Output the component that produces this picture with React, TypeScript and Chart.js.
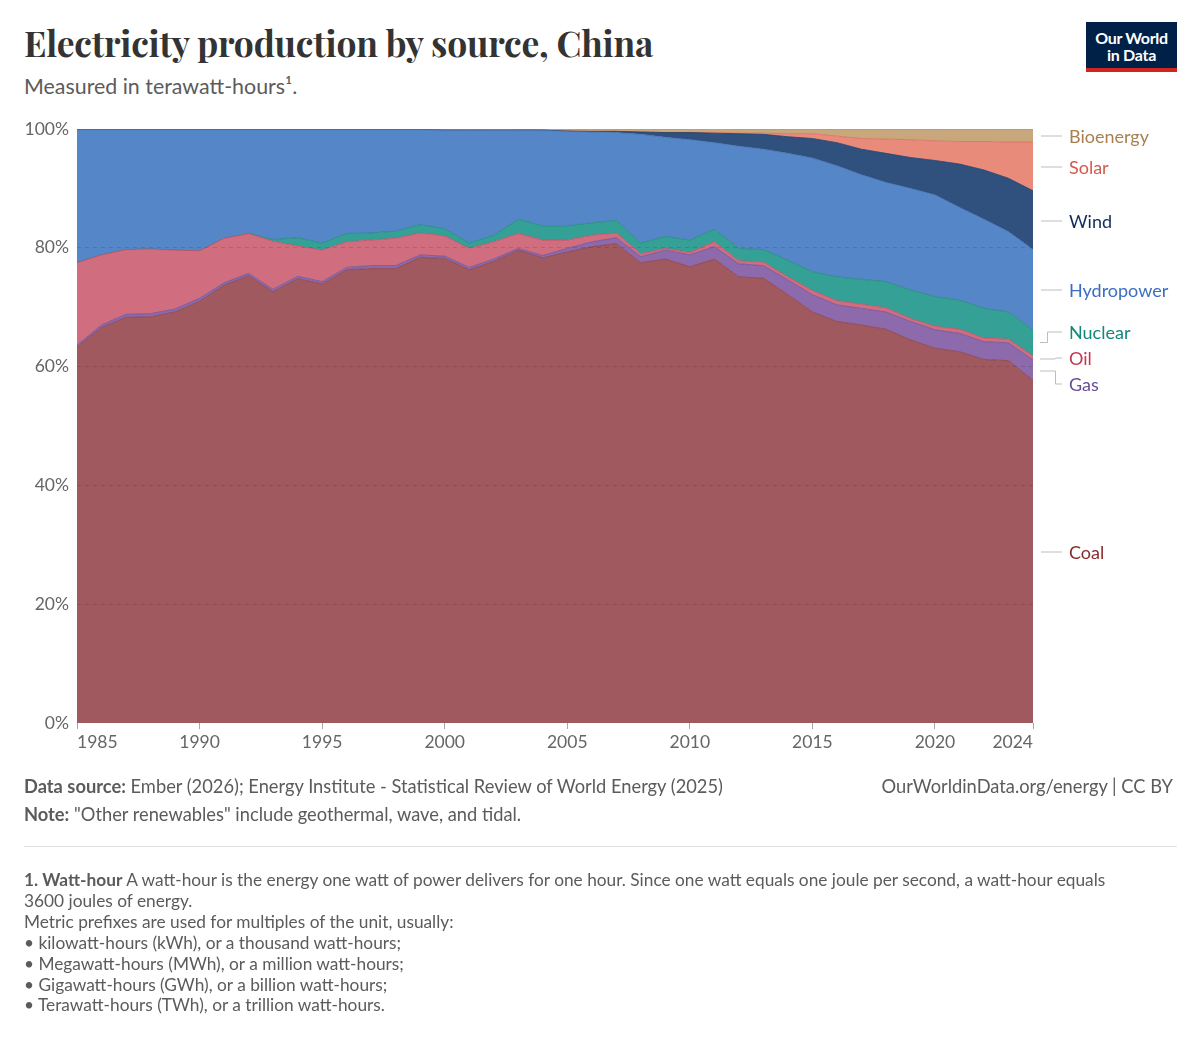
import React, { useEffect, useRef } from "react";
import { Chart, registerables } from "chart.js";

Chart.register(...registerables);

// ---------- DATA (share of electricity production, %) ----------
const years = [
  1985, 1986, 1987, 1988, 1989, 1990, 1991, 1992, 1993, 1994,
  1995, 1996, 1997, 1998, 1999, 2000, 2001, 2002, 2003, 2004,
  2005, 2006, 2007, 2008, 2009, 2010, 2011, 2012, 2013, 2014,
  2015, 2016, 2017, 2018, 2019, 2020, 2021, 2022, 2023, 2024,
];

const coal = [
  63.3, 66.6, 68.3, 68.4, 69.2, 71.0, 73.7, 75.3, 72.6, 74.8,
  73.9, 76.3, 76.5, 76.5, 78.4, 78.2, 76.3, 77.7, 79.6, 78.3,
  79.3, 80.2, 80.7, 77.5, 78.1, 76.8, 78.1, 75.1, 74.9, 72.1,
  69.2, 67.6, 67.0, 66.3, 64.5, 63.1, 62.5, 61.2, 61.0, 57.7,
];
const gas = [
  0.3, 0.4, 0.5, 0.5, 0.5, 0.5, 0.4, 0.4, 0.4, 0.4,
  0.4, 0.4, 0.5, 0.5, 0.4, 0.4, 0.4, 0.4, 0.3, 0.4,
  0.6, 0.8, 1.0, 1.0, 1.5, 2.0, 2.1, 2.2, 2.1, 2.5,
  2.9, 2.8, 2.8, 2.9, 3.1, 3.1, 3.1, 3.0, 3.0, 3.4,
];
const oil = [
  13.9, 11.8, 10.9, 10.9, 9.9, 8.0, 7.5, 6.7, 8.1, 5.1,
  5.3, 4.3, 4.3, 4.6, 3.7, 3.4, 3.2, 2.9, 2.5, 2.6,
  1.4, 1.1, 0.8, 0.5, 0.3, 0.4, 0.8, 0.5, 0.6, 0.5,
  0.7, 0.7, 0.7, 0.7, 0.5, 0.6, 0.7, 0.6, 0.6, 0.7,
];
const nuclear = [
  0, 0, 0, 0, 0, 0, 0, 0, 0.3, 1.4,
  1.2, 1.4, 1.2, 1.2, 1.4, 1.2, 0.9, 1.1, 2.4, 2.4,
  2.4, 2.1, 2.1, 1.8, 2.0, 2.1, 2.1, 2.1, 2.1, 2.8,
  3.2, 4.0, 4.2, 4.4, 4.8, 5.0, 4.9, 5.0, 4.6, 4.4,
];
const hydropower = [
  22.4, 21.1, 20.2, 20.1, 20.3, 20.4, 18.3, 17.5, 18.5, 18.2,
  19.1, 17.5, 17.4, 17.1, 16.0, 16.6, 19.0, 17.7, 15.0, 16.1,
  15.9, 15.3, 14.8, 18.3, 16.7, 16.9, 14.6, 17.2, 16.9, 18.0,
  19.1, 18.7, 17.6, 16.7, 17.1, 17.1, 15.6, 15.0, 13.5, 13.5,
];
const wind = [
  0, 0, 0, 0, 0, 0, 0, 0, 0, 0,
  0, 0, 0, 0, 0, 0, 0, 0, 0, 0,
  0.05, 0.1, 0.2, 0.4, 0.8, 1.2, 1.6, 2.1, 2.5, 2.8,
  3.3, 3.9, 4.3, 4.9, 5.2, 5.8, 7.3, 8.3, 9.0, 9.9,
];
const solar = [
  0, 0, 0, 0, 0, 0, 0, 0, 0, 0,
  0, 0, 0, 0, 0, 0, 0, 0, 0, 0,
  0, 0, 0, 0, 0, 0.02, 0.07, 0.1, 0.2, 0.5,
  0.8, 1.1, 1.8, 2.4, 3.0, 3.3, 3.8, 4.8, 6.1, 8.2,
];
const bioenergy = [
  0.1, 0.1, 0.1, 0.1, 0.1, 0.1, 0.1, 0.1, 0.1, 0.1,
  0.1, 0.1, 0.1, 0.1, 0.1, 0.15, 0.15, 0.15, 0.2, 0.2,
  0.3, 0.35, 0.4, 0.5, 0.55, 0.6, 0.6, 0.7, 0.7, 0.8,
  0.8, 1.2, 1.6, 1.7, 1.8, 2.0, 2.1, 2.1, 2.2, 2.2,
];

const xTickYears = [1985, 1990, 1995, 2000, 2005, 2010, 2015, 2020, 2024];
const yTickValues = [0, 20, 40, 60, 80, 100];

const seriesNames = ["Coal", "Gas", "Oil", "Nuclear", "Hydropower", "Wind", "Solar", "Bioenergy"];
const seriesValues = [coal, gas, oil, nuclear, hydropower, wind, solar, bioenergy];
const seriesFill = ["#a0595f", "#8c6aac", "#d06e80", "#35a096", "#5587c8", "#30507e", "#e98b7b", "#c9a77d"];
const seriesLine = ["#8a3e47", "#6f4e95", "#c04e66", "#1f857b", "#3f6fae", "#213d66", "#d86d5e", "#b08b5e"];

// Right-hand labels (layout only)
const labelItems = [
  { name: "Bioenergy", y: 136, color: "#a87f50" },
  { name: "Solar", y: 167, color: "#d35a4b" },
  { name: "Wind", y: 221, color: "#102c5c" },
  { name: "Hydropower", y: 290, color: "#3b6ec0" },
  { name: "Nuclear", y: 332, color: "#12877a" },
  { name: "Oil", y: 358, color: "#c73551" },
  { name: "Gas", y: 384, color: "#6b4b98" },
  { name: "Coal", y: 552, color: "#8a2b2b" },
];

const FONT = "Lato, 'Noto Sans', sans-serif";

function ChartCanvas() {
  const ref = useRef<HTMLCanvasElement | null>(null);
  useEffect(() => {
    if (!ref.current) return;
    const datasets = seriesNames.map((name, i) => ({
      label: name,
      data: years.map((yr, j) => ({ x: yr, y: seriesValues[i][j] })),
      backgroundColor: seriesFill[i],
      borderColor: seriesLine[i],
      borderWidth: 0.8,
      fill: i === 0 ? "origin" : "-1",
      pointRadius: 0,
      pointHoverRadius: 0,
      tension: 0,
    }));
    const chart = new Chart(ref.current, {
      type: "line",
      data: { datasets },
      options: {
        animation: false,
        responsive: true,
        maintainAspectRatio: false,
        layout: { padding: { top: 19, right: 17, left: 0, bottom: 0 } },
        plugins: {
          legend: { display: false },
          tooltip: { enabled: false },
        },
        scales: {
          x: {
            type: "linear",
            min: 1985,
            max: 2024,
            afterBuildTicks: (s: any) => {
              s.ticks = xTickYears.map((v) => ({ value: v }));
            },
            afterFit: (s: any) => {
              s.height = 37;
            },
            ticks: {
              align: "inner",
              autoSkip: false,
              maxRotation: 0,
              padding: 3,
              color: "#666",
              font: { family: FONT, size: 17.5 },
              callback: (v: any) => String(v),
            },
            grid: {
              drawOnChartArea: false,
              drawTicks: true,
              tickLength: 6,
              color: "#a6a6a6",
            },
            border: { display: false },
          },
          y: {
            stacked: true,
            min: 0,
            max: 100,
            afterBuildTicks: (s: any) => {
              s.ticks = yTickValues.map((v) => ({ value: v }));
            },
            afterFit: (s: any) => {
              s.width = 77;
            },
            ticks: {
              padding: 8,
              color: "#666",
              font: { family: FONT, size: 17.5 },
              callback: (v: any) => v + "%",
            },
            grid: {
              drawTicks: false,
              z: 1,
              color: (ctx: any) =>
                ctx.tick && (ctx.tick.value === 0 || ctx.tick.value === 100)
                  ? "rgba(0,0,0,0)"
                  : "rgba(0,0,0,0.13)",
            },
            border: { display: false, dash: [4, 4] },
          },
        },
      },
    });
    return () => chart.destroy();
  }, []);
  return (
    <div style={{ position: "absolute", left: 0, top: 110, width: 1050, height: 650 }}>
      <canvas ref={ref} />
    </div>
  );
}

export default function App() {
  const textGray = "#5b5b5b";
  return (
    <div
      style={{
        position: "absolute",
        left: 0,
        top: 0,
        width: 1200,
        height: 1039,
        background: "#fff",
        fontFamily: FONT,
        color: textGray,
        overflow: "hidden",
      }}
    >
      <div
        style={{
          position: "absolute",
          left: 24,
          top: 21,
          fontFamily: "'Playfair Display', 'Liberation Serif', 'DejaVu Serif', serif",
          fontWeight: 700,
          fontSize: 35.4,
          lineHeight: "44px",
          color: "#333",
          whiteSpace: "nowrap",
          letterSpacing: -0.2,
        }}
      >
        Electricity production by source, China
      </div>
      <div
        style={{
          position: "absolute",
          left: 24,
          top: 73,
          fontSize: 21.4,
          lineHeight: "27px",
          color: textGray,
          whiteSpace: "nowrap",
        }}
      >
        Measured in terawatt-hours¹.
      </div>

      {/* Logo */}
      <div
        style={{
          position: "absolute",
          left: 1086,
          top: 22,
          width: 91,
          height: 50,
          background: "#002147",
          boxSizing: "border-box",
          borderBottom: "4px solid #ce261e",
          color: "#fff",
          fontWeight: 700,
          fontSize: 16,
          lineHeight: "17px",
          textAlign: "center",
          paddingTop: 7,
          letterSpacing: -0.3,
        }}
      >
        Our World
        <br />
        in Data
      </div>

      <ChartCanvas />

      {/* Leader lines */}
      <svg
        style={{ position: "absolute", left: 0, top: 0, pointerEvents: "none" }}
        width={1200}
        height={1039}
      >
        <g stroke="#bdbdbd" strokeWidth={1} fill="none">
          <line x1={1041} y1={136} x2={1062} y2={136} />
          <line x1={1041} y1={167} x2={1062} y2={167} />
          <line x1={1041} y1={221} x2={1062} y2={221} />
          <line x1={1041} y1={290} x2={1062} y2={290} />
          <polyline points="1040,342.5 1047.5,342.5 1047.5,332 1062,332" />
          <polyline points="1040,359 1055,359 1056,358 1062,358" />
          <polyline points="1040,371 1055.5,371 1055.5,384 1062,384" />
          <line x1={1041} y1={552} x2={1062} y2={552} />
        </g>
      </svg>

      {labelItems.map((l) => (
        <div
          key={l.name}
          style={{
            position: "absolute",
            left: 1069,
            top: l.y - 11,
            fontSize: 18,
            lineHeight: "22px",
            color: l.color,
            whiteSpace: "nowrap",
          }}
        >
          {l.name}
        </div>
      ))}

      {/* Footer */}
      <div
        style={{
          position: "absolute",
          left: 24,
          top: 774,
          fontSize: 18.3,
          lineHeight: "24px",
          whiteSpace: "nowrap",
        }}
      >
        <b>Data source:</b> Ember (2026); Energy Institute - Statistical Review of World Energy (2025)
      </div>
      <div
        style={{
          position: "absolute",
          right: 1200 - 1173,
          top: 774,
          fontSize: 18.3,
          lineHeight: "24px",
          whiteSpace: "nowrap",
        }}
      >
        OurWorldinData.org/energy | CC BY
      </div>
      <div
        style={{
          position: "absolute",
          left: 24,
          top: 802,
          fontSize: 18.3,
          lineHeight: "24px",
          whiteSpace: "nowrap",
        }}
      >
        <b>Note:</b> "Other renewables" include geothermal, wave, and tidal.
      </div>
      <div
        style={{
          position: "absolute",
          left: 24,
          top: 846,
          width: 1153,
          height: 1,
          background: "#e3e3e3",
        }}
      />
      <div
        style={{
          position: "absolute",
          left: 24,
          top: 870,
          fontSize: 17.3,
          lineHeight: "20.9px",
          whiteSpace: "nowrap",
        }}
      >
        <b>1. Watt-hour</b> A watt-hour is the energy one watt of power delivers for one hour. Since one watt
        equals one joule per second, a watt-hour equals
        <br />
        3600 joules of energy.
        <br />
        Metric prefixes are used for multiples of the unit, usually:
        <br />• kilowatt-hours (kWh), or a thousand watt-hours;
        <br />• Megawatt-hours (MWh), or a million watt-hours;
        <br />• Gigawatt-hours (GWh), or a billion watt-hours;
        <br />• Terawatt-hours (TWh), or a trillion watt-hours.
      </div>
    </div>
  );
}
